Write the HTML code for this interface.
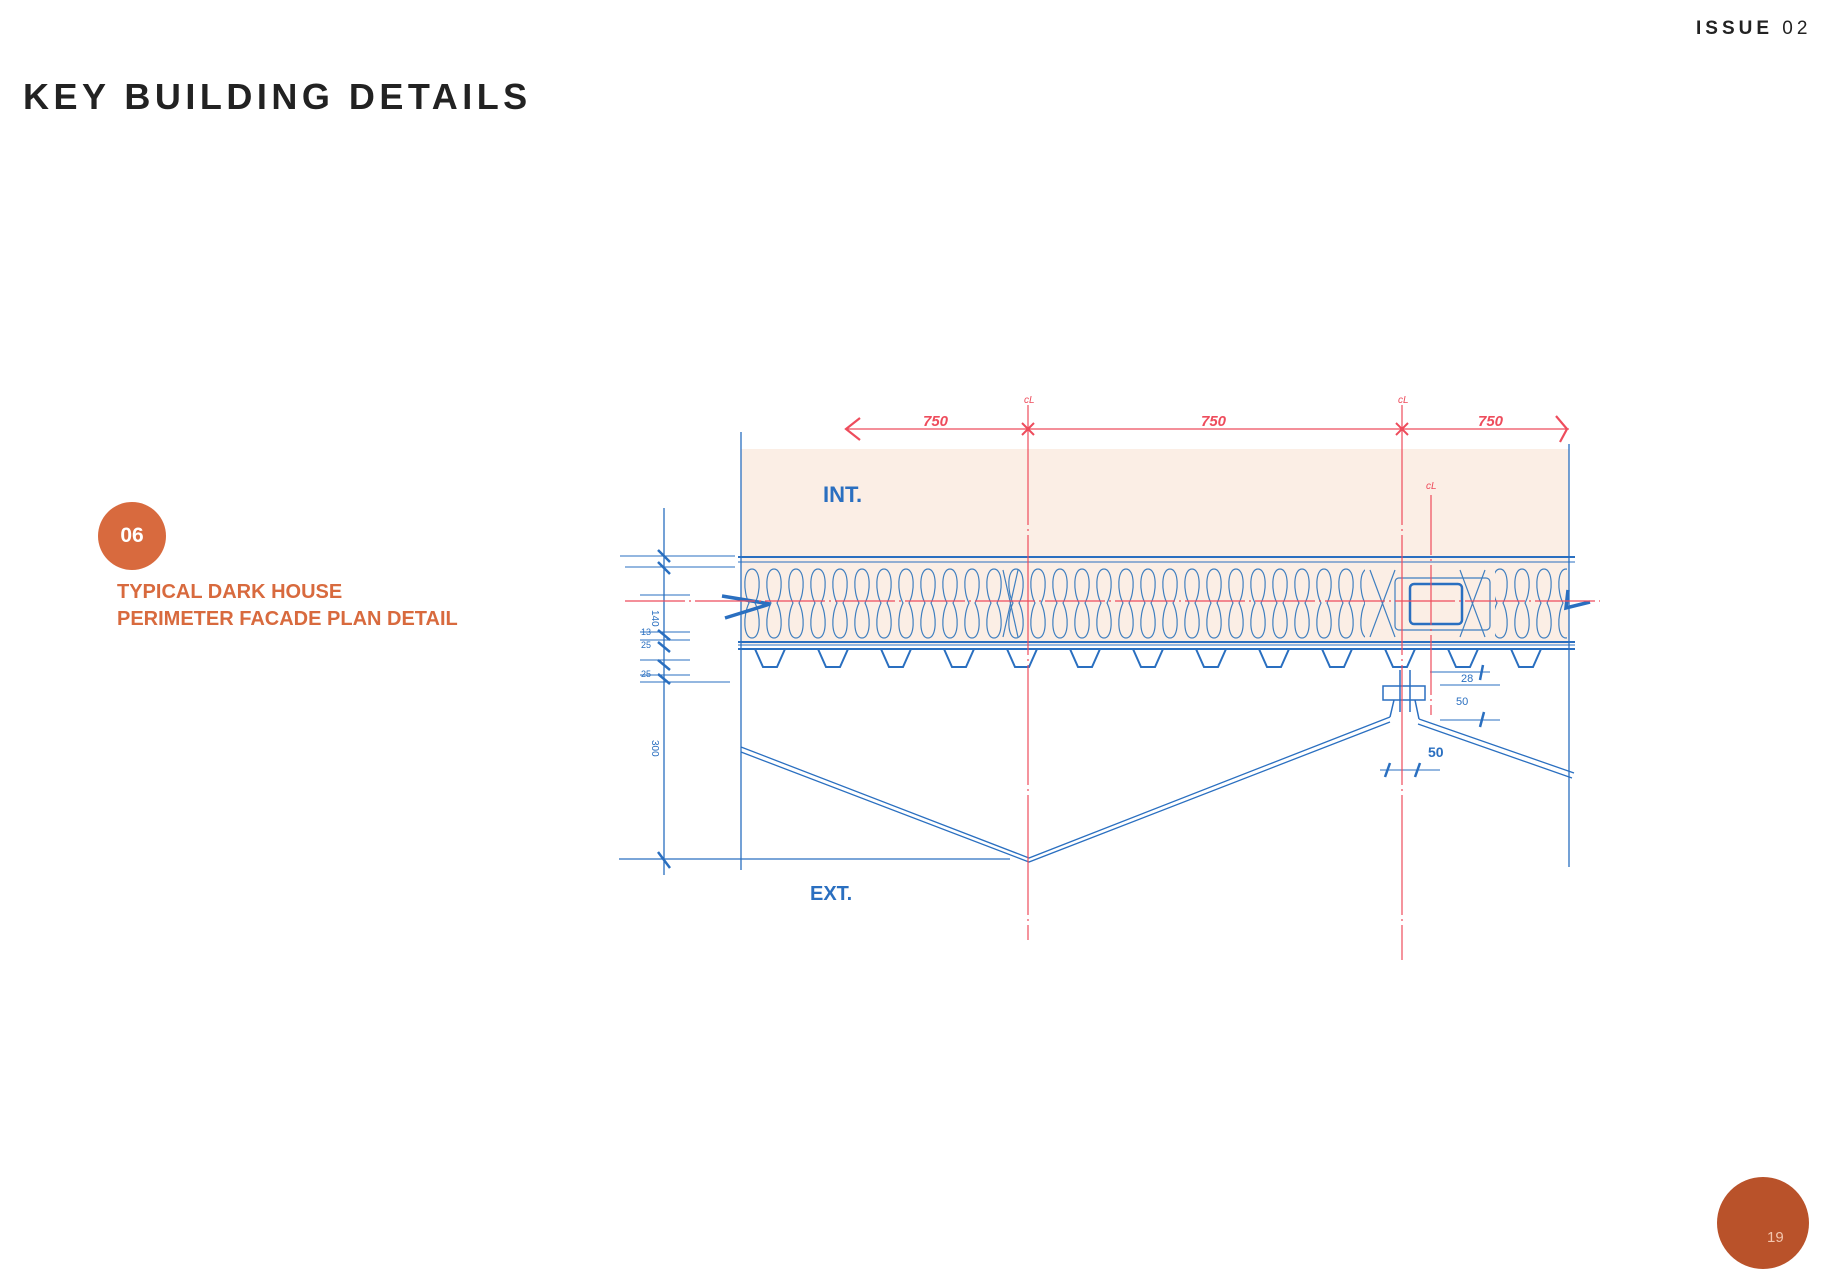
<!DOCTYPE html>
<html><head><meta charset="utf-8"><style>
html,body{margin:0;padding:0;background:#fff;}
body{width:1833px;height:1273px;position:relative;overflow:hidden;font-family:"Liberation Sans",sans-serif;}
.title{position:absolute;left:23px;top:76px;font-size:36px;font-weight:bold;letter-spacing:4.5px;color:#222;}
.issue{position:absolute;left:1696px;top:18px;font-size:19px;letter-spacing:4px;color:#222;}
.issue b{font-weight:bold;}
.badge{position:absolute;left:98px;top:502px;width:68px;height:68px;border-radius:50%;background:#d86a3e;color:#fff;font-weight:bold;font-size:21px;text-align:center;line-height:68px;}
.cap{position:absolute;left:117px;top:579px;font-size:20px;font-weight:bold;color:#d86a3e;line-height:27px;}
.page{position:absolute;left:1717px;top:1177px;width:92px;height:92px;border-radius:50%;background:#b9522a;color:#f3c6ae;font-size:15px;}
.page span{position:absolute;left:50px;top:52px;}
svg{position:absolute;left:0;top:0;}
</style></head><body>
<div class="title">KEY BUILDING DETAILS</div>
<div class="issue"><b>ISSUE</b> 02</div>
<div class="badge">06</div>
<div class="cap">TYPICAL DARK HOUSE<br>PERIMETER FACADE PLAN DETAIL</div>
<div class="page"><span>19</span></div>
<svg width="1833" height="1273" viewBox="0 0 1833 1273">
<defs>
<pattern id="ins" x="741" y="567" width="22" height="73" patternUnits="userSpaceOnUse">
<path d="M11,2 C2,2 2,25 8,36 C2,48 2,71 11,71 C20,71 20,48 14,36 C20,25 20,2 11,2Z" fill="none" stroke="#3f7fc0" stroke-width="1.2"/>
</pattern>
<pattern id="trap" x="741" y="648" width="63" height="40" patternUnits="userSpaceOnUse">
<path d="M0,1 H14 L22,19 H36 L44,1 H63" fill="none" stroke="#2a6fc0" stroke-width="2"/>
</pattern>
</defs>
<rect x="741" y="449" width="828" height="109" fill="#fbeee5"/>
<rect x="741" y="558" width="828" height="86" fill="#fbeee5"/>
<rect x="743" y="567" width="824" height="73" fill="url(#ins)"/>
<rect x="1365" y="567" width="130" height="73" fill="#fbeee5"/>
<g stroke="#3f7fc0" fill="none" stroke-width="1.2">
<path d="M1370,570 L1395,637 M1395,570 L1370,637 M1460,570 L1485,637 M1485,570 L1460,637 M1003,570 L1018,637 M1018,570 L1003,637"/>
<rect x="1395" y="578" width="95" height="52" rx="4"/>
<rect x="1410" y="584" width="52" height="40" rx="4" stroke="#2a6fc0" stroke-width="2.5"/>
</g>
<rect x="741" y="649" width="828" height="22" fill="url(#trap)"/>
<g stroke="#2a6fc0" fill="none" stroke-width="2">
<line x1="738" y1="557" x2="1575" y2="557"/>
<line x1="738" y1="562" x2="1575" y2="562" stroke-width="1"/>
<line x1="738" y1="645" x2="1575" y2="645" stroke-width="1"/>
<line x1="738" y1="642" x2="1575" y2="642"/>
<line x1="738" y1="649" x2="1575" y2="649"/>
<line x1="741" y1="432" x2="741" y2="870" stroke-width="1.3"/>
<line x1="1569" y1="444" x2="1569" y2="867" stroke-width="1.3"/>
<line x1="664" y1="508" x2="664" y2="875" stroke-width="1.3"/>
<line x1="619" y1="859" x2="1010" y2="859" stroke-width="1.3"/>
<path d="M741,747 L1029,858 L1390,717 M741,752 L1029,862 L1390,722" stroke-width="1.3"/>
<path d="M1419,719 L1574,773 M1418,724 L1572,778" stroke-width="1.3"/>
<path d="M1390,717 L1394,700 M1419,719 L1415,700 M1400,712 V670 M1410,712 V670" stroke-width="1.5"/>
<rect x="1383" y="686" width="42" height="14" stroke-width="1.5"/>
<path d="M640,595 H690 M640,632 H690 M640,640 H690 M640,660 H690 M640,675 H690 M640,682 H730 M620,556 H735 M625,567 H735 M1430,672 H1490 M1440,685 H1500 M1440,720 H1500 M1380,770 H1440" stroke-width="1"/>
<path d="M658,550 L670,562 M658,562 L670,574 M658,630 L670,640 M658,642 L670,652 M658,660 L670,670 M658,674 L670,684 M658,852 L670,868 M1483,665 L1480,680 M1484,712 L1480,727 M1390,763 L1385,777 M1420,763 L1415,777" stroke-width="2.5"/>
<path d="M722,596 L770,604 L725,618 M1590,602 L1566,608 L1568,590" stroke-width="3.5"/>
</g>
<g stroke="#ee4c5c" fill="none" stroke-width="1.2">
<line x1="846" y1="429" x2="1569" y2="429"/>
<path d="M860,418 L846,429 L860,440 M1556,416 L1567,429 L1560,442" stroke-width="2.2"/>
<path d="M1022,423 L1034,435 M1034,423 L1022,435 M1396,423 L1408,435 M1408,423 L1396,435" stroke-width="2"/>
<line x1="1028" y1="405" x2="1028" y2="940" stroke-dasharray="120 4 2 4"/>
<line x1="1402" y1="405" x2="1402" y2="960" stroke-dasharray="120 4 2 4"/>
<line x1="1431" y1="495" x2="1431" y2="715" stroke-dasharray="60 4 2 4"/>
<line x1="625" y1="601" x2="1600" y2="601" stroke-dasharray="60 4 2 4"/>
</g>
<g fill="#ee4c5c" font-family="Liberation Sans,sans-serif" font-size="15" font-style="italic" font-weight="bold">
<text x="923" y="426">750</text><text x="1201" y="426">750</text><text x="1478" y="426">750</text>
<text x="1024" y="403" font-size="10" font-weight="normal">cL</text><text x="1398" y="403" font-size="10" font-weight="normal">cL</text><text x="1426" y="489" font-size="10" font-weight="normal">cL</text>
</g>
<g fill="#2a6fc0" font-family="Liberation Sans,sans-serif">
<text x="823" y="502" font-size="22" font-weight="bold">INT.</text>
<text x="810" y="900" font-size="20" font-weight="bold">EXT.</text>
<text x="1461" y="682" font-size="11">28</text>
<text x="1456" y="705" font-size="11">50</text>
<text x="1428" y="757" font-size="14" font-weight="bold">50</text>
<text x="641" y="635" font-size="9">13</text><text x="641" y="648" font-size="9">25</text><text x="641" y="677" font-size="9">25</text>
<text transform="translate(652,610) rotate(90)" font-size="10">140</text>
<text transform="translate(652,740) rotate(90)" font-size="10">300</text>
</g>
</svg>
</body></html>
